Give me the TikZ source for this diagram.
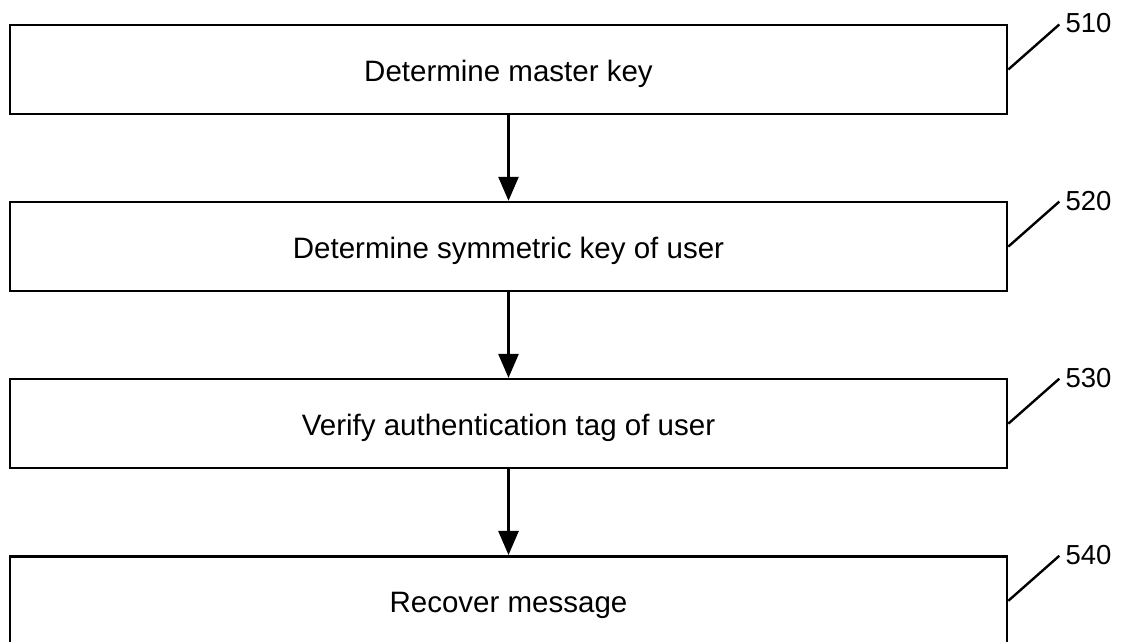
\documentclass[tikz,border=0pt]{standalone}
\usepackage{fontspec}
\setmainfont{Liberation Sans}
\usetikzlibrary{positioning,arrows.meta}

\begin{document}
\begin{tikzpicture}[x=1pt, y=1pt,
    stepbox/.style={draw, line width=2.6pt, minimum width=997pt, minimum height=89pt,
      inner sep=0pt, text height=24pt, text depth=0pt, font=\fontsize{29.5}{34}\selectfont},
    flow/.style={-{Triangle[length=24pt,width=20pt]}, line width=2.6pt},
    leader/.style={line width=2.4pt},
    reflabel/.style={right, inner sep=6pt, yshift=1pt, font=\fontsize{27.5}{32}\selectfont}]
    \useasboundingbox (0,0) rectangle (1124,642);
    % Draw process steps
    \node [stepbox] (s510) at (508.5,572.5) {Determine master key};
    \node [stepbox, below=85.5pt of s510] (s520) {Determine symmetric key of user};
    \node [stepbox, below=85.5pt of s520] (s530) {Verify authentication tag of user};
    \node [stepbox, below=85.5pt of s530] (s540) {Recover message};
    % Draw flow arrows
    \draw [flow] (s510) -- (s520);
    \draw [flow] (s520) -- (s530);
    \draw [flow] (s530) -- (s540);
    % Draw reference numerals with leader lines
    \foreach \n in {510,520,530,540} {
      \draw [leader] (s\n.east) -- ++(51,45) coordinate (l\n);
      \node [reflabel] (r\n) at (l\n) {\n};
    }
\end{tikzpicture}
\end{document}
